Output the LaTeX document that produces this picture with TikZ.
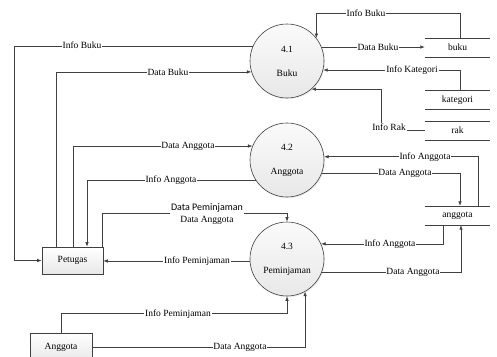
\documentclass[tikz,border=0pt]{standalone}
\usepackage{fontspec}
\setmainfont{Liberation Serif}
\newfontfamily\labelsans{Carlito}
\usetikzlibrary{arrows.meta,shadows}

\tikzset{
  base/.style={font=\fontsize{9.5}{11}\selectfont},
  proc/.style={base, circle, draw=black!75, line width=0.6pt, minimum size=74pt,
    inner sep=0pt, top color=gray!4, bottom color=gray!18,
    drop shadow={opacity=0.15, shadow xshift=1pt, shadow yshift=-1.2pt}, align=center},
  entity/.style={base, rectangle, draw=black!75, line width=0.6pt, minimum width=61pt,
    minimum height=27pt, inner sep=0pt, top color=white, bottom color=gray!18,
    drop shadow={opacity=0.25, shadow xshift=1pt, shadow yshift=-1pt}},
  store/.style={base, rectangle, minimum width=65pt, minimum height=19pt, inner sep=0pt,
    append after command={
      (\tikzlastnode.north west) edge[draw=black!75, line width=0.6pt] (\tikzlastnode.north east)
      (\tikzlastnode.south west) edge[draw=black!75, line width=0.6pt] (\tikzlastnode.south east)}},
  flow/.style={draw=black!75, line width=0.6pt, -{Latex[length=4.5pt,width=3.5pt]}},
  lbl/.style={base, fill=white, inner sep=0.8pt},
}

\begin{document}
\begin{tikzpicture}[x=1pt, y=-1pt]
\useasboundingbox (0,0) rectangle (497,356);

% processes
\node[proc] (c41) at (287,61) {4.1\\[13pt]Buku};
\node[proc] (c42) at (287,160) {4.2\\[13pt]Anggota};
\node[proc] (c43) at (287,259) {4.3\\[13pt]Peminjaman};

% external entities
\node[entity] (pet) at (72.5,260.5) {Petugas};
\node[entity, minimum width=62pt, minimum height=28pt] (ang) at (61,347) {Anggota};

% data stores
\node[store] (bk) at (457.5,47.5) {buku};
\node[store] (kat) at (457.5,100) {kategori};
\node[store] (rak) at (457.5,130.5) {rak};
\node[store] (ag) at (457.5,215.5) {anggota};

% flows between Petugas and the processes
\draw[flow] (c41.156) -- (c41.156 -| 14,0) |- (pet.west);
\draw[flow] ([xshift=-16pt]pet.north) |- (c41.197);
\draw[flow] ([xshift=0.5pt]pet.north) |- (c42.158);
\draw[flow] (c42.213) -| ([xshift=14.5pt]pet.north);
\draw[flow] ([xshift=30pt]pet.north) -- ++(0,-33) -| (c43.north);
\draw[flow] (c43.183) -- (pet.east |- c43.183);

% flows from Anggota
\draw[flow] (ang.north) -- ++(0,-19) -| (c43.south);
\draw[flow] (ang.east) -| (c43.-61);

% flows with the data stores
\draw[flow] ([xshift=2.5pt]bk.north) -- ++(0,-25) -| (c41.38);
\draw[flow] (c41.22) -- (bk.west |- c41.22);
\draw[flow] ([xshift=2.5pt]kat.north) |- (c41.-14);
\draw[flow] (rak.west) -- (rak.west -| 381,0) |- (c41.-49);
\draw[flow] ([xshift=20.5pt]ag.north) |- (c42.5);
\draw[flow] (c42.-21) -| ([xshift=2.5pt]ag.north);
\draw[flow] ([xshift=-14.5pt]ag.south) |- (c43.24);
\draw[flow] (c43.-21) -| ([xshift=3.5pt]ag.south);

% flow labels
\node[lbl] (l1) at (82,45) {Info Buku};
\node[lbl] (l2) at (168,72) {Data Buku};
\node[lbl] (l3) at (188,146) {Data Anggota};
\node[lbl] (l4) at (171,180) {Info Anggota};
\node[lbl, align=center, inner sep=1.5pt] (l5) at (207,214)
  {{\labelsans\fontsize{10}{11}\selectfont Data Peminjaman}\\[1pt]Data Anggota};
\node[lbl] (l6) at (197,261) {Info Peminjaman};
\node[lbl] (l7) at (178,314) {Info Peminjaman};
\node[lbl] (l8) at (240,347) {Data Anggota};
\node[lbl] (l9) at (366,13) {Info Buku};
\node[lbl] (l10) at (378,47) {Data Buku};
\node[lbl] (l11) at (412,70) {Info Kategori};
\node[lbl] (l12) at (389,127) {Info Rak};
\node[lbl] (l13) at (425,157) {Info Anggota};
\node[lbl] (l14) at (405,173) {Data Anggota};
\node[lbl] (l15) at (390,244) {Info Anggota};
\node[lbl] (l16) at (413,272) {Data Anggota};
\end{tikzpicture}
\end{document}
